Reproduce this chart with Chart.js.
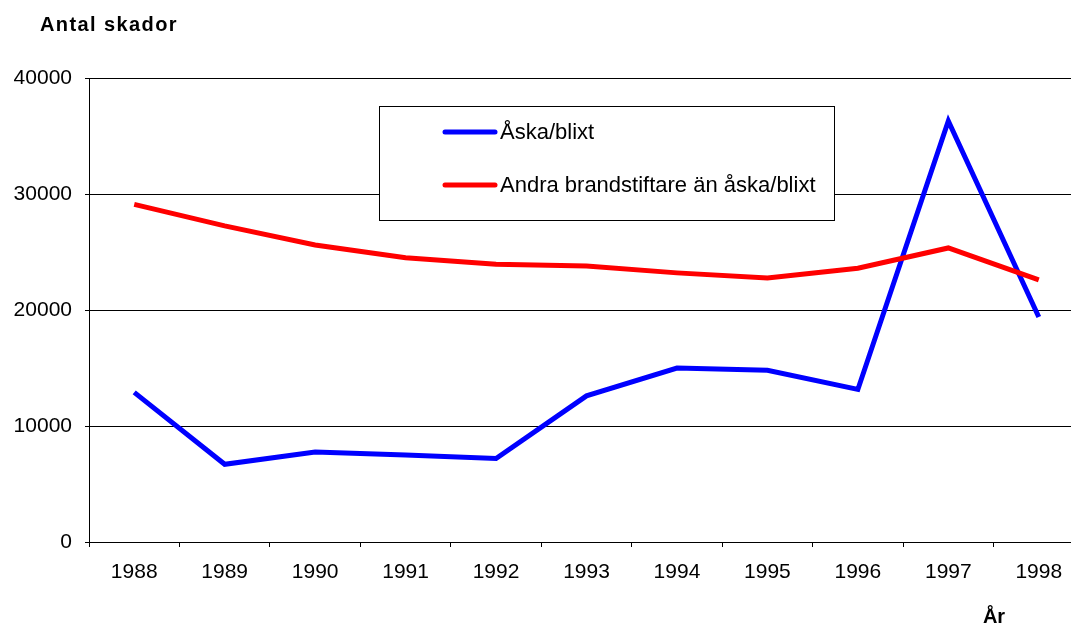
<!DOCTYPE html>
<html>
<head>
<meta charset="utf-8">
<script src="https://cdn.jsdelivr.net/npm/chart.js@4/dist/chart.umd.min.js"></script>
<style>
  html, body { margin: 0; padding: 0; background: #fff; overflow: hidden; width: 1071px; height: 628px; }
  #wrap { width: 1090px; height: 628px; }
</style>
</head>
<body>
<div id="wrap"><canvas id="c" width="1090" height="628"></canvas></div>
<script>
const years = ['1988','1989','1990','1991','1992','1993','1994','1995','1996','1997','1998'];
const askaBlixt = [12900, 6700, 7750, 7500, 7200, 12600, 15000, 14800, 13150, 36300, 19400];
const andraBrandstiftare = [29100, 27250, 25600, 24500, 23950, 23800, 23200, 22750, 23600, 25350, 22600];
const seriesNames = ['Åska/blixt', 'Andra brandstiftare än åska/blixt'];
const yAxisTitle = 'Antal skador';
const xAxisTitle = 'År';

const FONT = '"Liberation Sans", Arial, sans-serif';

const overlay = {
  id: 'overlay',
  afterDraw(chart) {
    const ctx = chart.ctx;
    ctx.save();
    ctx.fillStyle = '#000';
    ctx.font = 'bold 20px ' + FONT;
    ctx.textBaseline = 'alphabetic';
    ctx.textAlign = 'left';
    try { ctx.letterSpacing = '1.4px'; } catch (e) {}
    ctx.fillText(yAxisTitle, 40, 31);
    try { ctx.letterSpacing = '0px'; } catch (e) {}
    ctx.textAlign = 'center';
    ctx.fillText(xAxisTitle, 994, 623);

    const bx = 379.5, by = 106.5, bw = 455, bh = 114;
    ctx.fillStyle = '#fff';
    ctx.fillRect(bx, by, bw, bh);
    ctx.strokeStyle = '#000';
    ctx.lineWidth = 1;
    ctx.strokeRect(bx, by, bw, bh);
    const rows = [132, 185];
    [0, 1].forEach((i, k) => {
      const ds = chart.data.datasets[i];
      const y = rows[k];
      ctx.strokeStyle = ds.borderColor;
      ctx.lineWidth = 5;
      ctx.lineCap = 'round';
      ctx.beginPath();
      ctx.moveTo(445, y);
      ctx.lineTo(495, y);
      ctx.stroke();
      ctx.fillStyle = '#000';
      ctx.font = '22px ' + FONT;
      ctx.textAlign = 'left';
      ctx.textBaseline = 'middle';
      ctx.fillText(ds.label, 500, y + 1);
    });
    ctx.restore();
  }
};

new Chart(document.getElementById('c'), {
  type: 'line',
  data: {
    labels: years,
    datasets: [
      { label: seriesNames[0], data: askaBlixt, borderColor: '#0000FF', backgroundColor: '#0000FF',
        borderWidth: 5, pointRadius: 0, tension: 0, borderJoinStyle: 'miter', order: 1 },
      { label: seriesNames[1], data: andraBrandstiftare, borderColor: '#FF0000', backgroundColor: '#FF0000',
        borderWidth: 5, pointRadius: 0, tension: 0, borderJoinStyle: 'miter', order: 0 }
    ]
  },
  options: {
    responsive: false,
    animation: false,
    devicePixelRatio: 1,
    layout: { padding: { top: 78, right: 6, left: 0, bottom: 0 } },
    plugins: { legend: { display: false }, tooltip: { enabled: false }, title: { display: false } },
    scales: {
      x: {
        type: 'category',
        offset: true,
        afterFit(s) { s.height = 86; },
        grid: { offset: true, drawOnChartArea: false, drawTicks: true, tickLength: 5, color: '#000', lineWidth: 1 },
        border: { display: true, color: '#000', width: 1 },
        ticks: { color: '#000', font: { family: FONT, size: 21 }, padding: 13, maxRotation: 0, autoSkip: false }
      },
      y: {
        min: 0, max: 40000,
        afterFit(s) { s.width = 89; },
        grid: { color: '#000', lineWidth: 1, drawTicks: true, tickLength: 4 },
        border: { display: true, color: '#000', width: 1 },
        ticks: { stepSize: 10000, color: '#000', font: { family: FONT, size: 21 }, padding: 13,
                 callback: (v) => String(v) }
      }
    }
  },
  plugins: [overlay]
});
</script>
</body>
</html>
